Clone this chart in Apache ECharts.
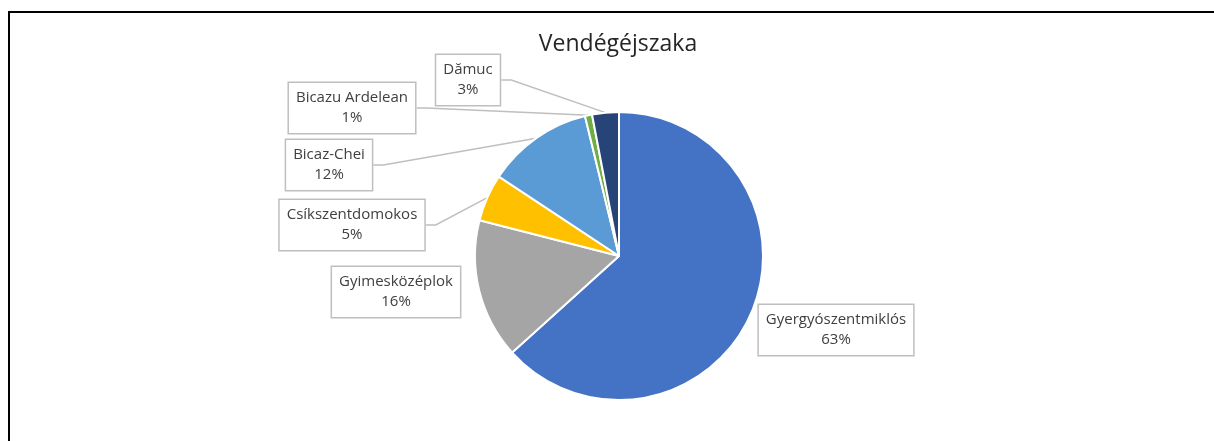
<!DOCTYPE html>
<html>
<head>
<meta charset="utf-8">
<script src="https://cdn.jsdelivr.net/npm/echarts@6/dist/echarts.min.js"></script>
<style>
  html, body { margin: 0; padding: 0; background: #fff; }
  #char { width: 1214px; height: 441px; }
  .frame {
    position: absolute; left: 8px; top: 11px; right: -5px; bottom: -5px;
    border-top: 2px solid #000; border-left: 2px solid #000;
    pointer-events: none;
  }
</style>
</head>
<body>
<div id="char"></div>
<div class="frame"></div>
<script>
// település nevek és vendégéjszaka arány (%)
var categories = ["Gyergyószentmiklós", "Gyimesközéplok", "Csíkszentdomokos", "Bicaz-Chei", "Bicazu Ardelean", "Dămuc"];
var values = [63.3, 15.7, 5.3, 11.9, 0.8, 3.0];
var colors = ["#4472C4", "#A5A5A5", "#FFC000", "#5B9BD5", "#70AD47", "#264478"];

// label box centers (layout only)
var labelPos = [
  [836, 330],
  [396, 292],
  [352, 225],
  [329, 165],
  [352, 108],
  [468, 80]
];

var seriesData = [];
for (var i = 0; i < categories.length; i++) {
  seriesData.push({
    name: categories[i],
    value: values[i],
    itemStyle: { color: colors[i] },
    labelLine: { show: i > 1 }
  });
}

var myChart = echarts.init(document.getElementById("char"));
var option = {
  animation: false,
  title: {
    text: "Vendégéjszaka",
    left: 613,
    top: 28,
    textAlign: "center",
    textStyle: {
      fontFamily: "Open Sans",
      fontSize: 23,
      fontWeight: "normal",
      color: "#262626"
    }
  },
  series: [
    {
      type: "pie",
      center: [619, 256],
      radius: 144,
      startAngle: 90,
      clockwise: true,
      avoidLabelOverlap: false,
      percentPrecision: 0,
      itemStyle: {
        borderColor: "#fff",
        borderWidth: 2
      },
      label: {
        show: true,
        position: "outside",
        formatter: "{b}\n{d}%",
        fontFamily: "Open Sans",
        fontSize: 15,
        lineHeight: 20,
        color: "#404040",
        backgroundColor: "#fff",
        borderColor: "#BFBFBF",
        borderWidth: 1.5,
        padding: [5, 7, 5, 7],
        align: "center"
      },
      labelLine: {
        show: true,
        length: 10,
        length2: 10,
        lineStyle: { color: "#BFBFBF", width: 1.5 }
      },
      labelLayout: function (params) {
        var p = labelPos[params.dataIndex];
        return {
          x: p[0],
          y: p[1],
          align: "center",
          verticalAlign: "middle"
        };
      },
      data: seriesData
    }
  ]
};
myChart.setOption(option);
</script>
</body>
</html>
